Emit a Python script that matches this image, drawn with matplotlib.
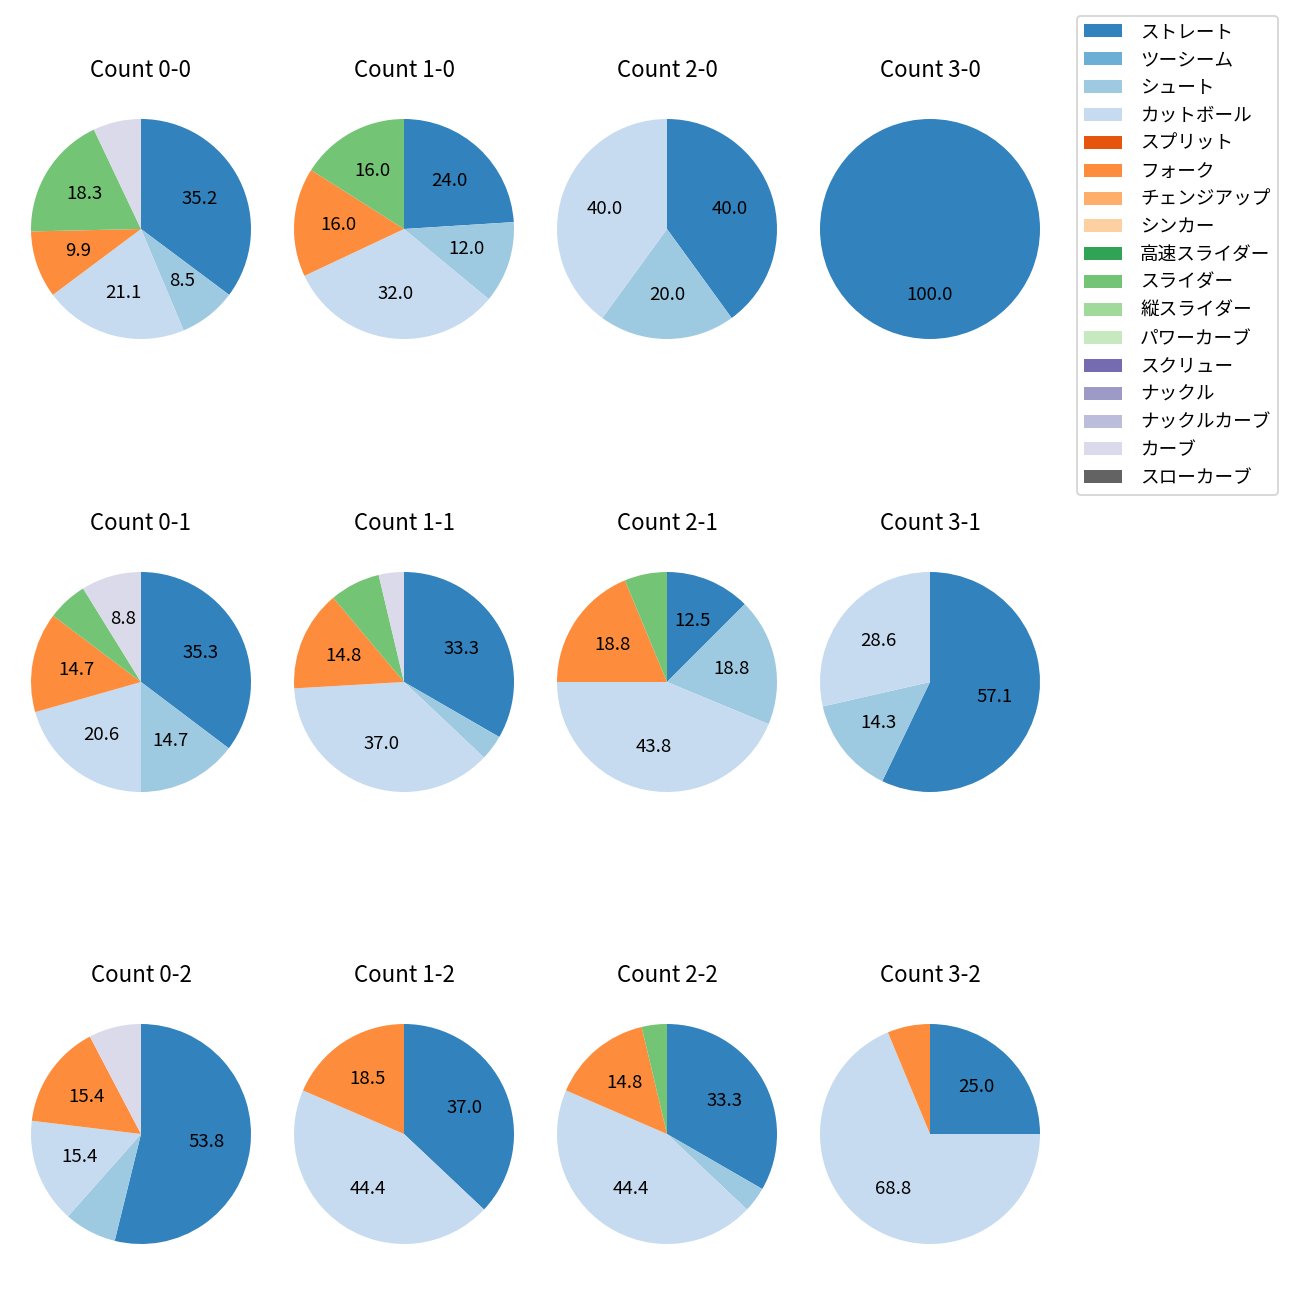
import matplotlib
matplotlib.use("Agg")
import matplotlib.pyplot as plt
from matplotlib.patches import Patch

plt.rcParams['font.family'] = ['Noto Sans CJK JP', 'DejaVu Sans']

pitch_types = ['ストレート', 'ツーシーム', 'シュート', 'カットボール', 'スプリット', 'フォーク',
               'チェンジアップ', 'シンカー', '高速スライダー', 'スライダー', '縦スライダー',
               'パワーカーブ', 'スクリュー', 'ナックル', 'ナックルカーブ', 'カーブ', 'スローカーブ']

count_labels = ['0-0', '1-0', '2-0', '3-0',
                '0-1', '1-1', '2-1', '3-1',
                '0-2', '1-2', '2-2', '3-2']

# pitch counts per ball-strike count, in pitch_types order
c_0_0 = [25, 0, 6, 15, 0, 7, 0, 0, 0, 13, 0, 0, 0, 0, 0, 5, 0]
c_1_0 = [6, 0, 3, 8, 0, 4, 0, 0, 0, 4, 0, 0, 0, 0, 0, 0, 0]
c_2_0 = [2, 0, 1, 2, 0, 0, 0, 0, 0, 0, 0, 0, 0, 0, 0, 0, 0]
c_3_0 = [1, 0, 0, 0, 0, 0, 0, 0, 0, 0, 0, 0, 0, 0, 0, 0, 0]
c_0_1 = [12, 0, 5, 7, 0, 5, 0, 0, 0, 2, 0, 0, 0, 0, 0, 3, 0]
c_1_1 = [9, 0, 1, 10, 0, 4, 0, 0, 0, 2, 0, 0, 0, 0, 0, 1, 0]
c_2_1 = [2, 0, 3, 7, 0, 3, 0, 0, 0, 1, 0, 0, 0, 0, 0, 0, 0]
c_3_1 = [4, 0, 1, 2, 0, 0, 0, 0, 0, 0, 0, 0, 0, 0, 0, 0, 0]
c_0_2 = [7, 0, 1, 2, 0, 2, 0, 0, 0, 0, 0, 0, 0, 0, 0, 1, 0]
c_1_2 = [10, 0, 0, 12, 0, 5, 0, 0, 0, 0, 0, 0, 0, 0, 0, 0, 0]
c_2_2 = [9, 0, 1, 12, 0, 4, 0, 0, 0, 1, 0, 0, 0, 0, 0, 0, 0]
c_3_2 = [4, 0, 0, 11, 0, 1, 0, 0, 0, 0, 0, 0, 0, 0, 0, 0, 0]

all_counts = [c_0_0, c_1_0, c_2_0, c_3_0,
              c_0_1, c_1_1, c_2_1, c_3_1,
              c_0_2, c_1_2, c_2_2, c_3_2]

cmap = plt.get_cmap('tab20c')
colors = [cmap(i) for i in range(len(pitch_types))]

W = H = 1300
dpi = 134
fig = plt.figure(figsize=(W / dpi, H / dpi), dpi=dpi)

col_cx = [141, 404, 667, 930]
row_cy = [229, 682, 1134]
r_px = 110
size = 2.5 * r_px

for idx, (lab, vals) in enumerate(zip(count_labels, all_counts)):
    row, col = divmod(idx, 4)
    cx, cy = col_cx[col], row_cy[row]
    ax = fig.add_axes([(cx - size / 2) / W, 1 - (cy + size / 2) / H, size / W, size / H])
    v = [x for x in vals if x > 0]
    c = [colors[i] for i, x in enumerate(vals) if x > 0]
    ax.pie(v, colors=c, startangle=90, counterclock=False,
           autopct=lambda p: f'{p:.1f}' if p >= 8 else '',
           textprops={'fontsize': 10})
    ax.set_title(f'Count {lab}', fontsize=12, pad=7.6)

handles = [Patch(facecolor=colors[i], label=pitch_types[i]) for i in range(len(pitch_types))]
fig.legend(handles=handles, loc='upper left', bbox_to_anchor=(1077 / W, 1 - 16 / H),
           borderaxespad=0, fontsize=10, handletextpad=1.0, labelspacing=0.53)

fig.savefig('out.png', dpi=dpi)
